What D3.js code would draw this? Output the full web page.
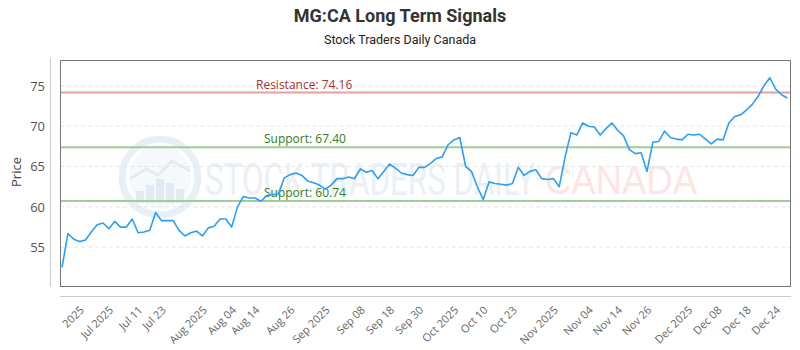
<!DOCTYPE html>
<html>
<head>
<meta charset="utf-8">
<script src="https://cdn.jsdelivr.net/npm/d3@7"></script>
<style>
  html, body { margin: 0; padding: 0; background: #fff; }
  svg { display: block; }
</style>
</head>
<body>
<div id="chart"></div>
<script>
// Closing prices, one per session
const prices = [
  52.5, 56.7, 56.0, 55.7, 55.9, 56.9, 57.8, 58.0, 57.3, 58.2,
  57.5, 57.5, 58.5, 56.8, 56.9, 57.1, 59.3, 58.3, 58.3, 58.3,
  57.1, 56.4, 56.8, 57.0, 56.4, 57.4, 57.6, 58.5, 58.5, 57.5,
  60.0, 61.3, 61.1, 61.1, 60.7, 61.4, 61.5, 61.6, 63.6, 64.0,
  64.2, 63.9, 63.2, 63.0, 62.7, 62.2, 62.7, 63.5, 63.5, 63.7,
  63.5, 64.7, 64.3, 64.5, 63.5, 64.4, 65.3, 64.8, 64.2, 64.0,
  63.9, 64.9, 64.9, 65.4, 66.0, 66.2, 67.7, 68.3, 68.6, 65.0,
  64.4, 62.5, 60.9, 63.1, 62.9, 62.8, 62.7, 62.9, 64.9, 63.9,
  64.4, 64.6, 63.5, 63.4, 63.5, 62.5, 66.2, 69.2, 68.9, 70.4,
  70.0, 69.9, 68.9, 69.7, 70.4, 69.5, 68.8, 67.1, 66.6, 66.7,
  64.4, 68.0, 68.1, 69.4, 68.6, 68.4, 68.3, 69.0, 68.9, 69.0,
  68.4, 67.8, 68.4, 68.3, 70.4, 71.2, 71.4, 72.0, 72.7, 73.7,
  75.0, 76.0, 74.6, 73.9, 73.5
];

// Labelled sessions on the date axis
const tickLabels = [
  "2025", "Jul 2025", "Jul 11", "Jul 23", "Aug 2025", "Aug 04", "Aug 14", "Aug 26",
  "Sep 2025", "Sep 08", "Sep 18", "Sep 30", "Oct 2025", "Oct 10", "Oct 23",
  "Nov 2025", "Nov 04", "Nov 14", "Nov 26", "Dec 2025", "Dec 08", "Dec 18", "Dec 24"
];
const tickAt = [
  3, 8, 13, 17, 24, 29, 33, 39, 45, 51, 56, 61, 67, 72, 77, 84, 90, 95, 100, 107, 112, 117, 122
];

const yTicks = [55, 60, 65, 70, 75];

// Signal levels
const levelNames = ["Resistance", "Support", "Support"];
const levelValues = [74.16, 67.40, 60.74];

const W = 800, H = 350;
const plot = { left: 60, right: 790, top: 60, bottom: 286 };

const svg = d3.select("#chart").append("svg")
  .attr("width", W).attr("height", H);

const x = d3.scaleLinear()
  .domain([-0.35, prices.length - 1 + 0.45])
  .range([plot.left, plot.right]);

const y = d3.scaleLinear()
  .domain([50.2, 78.2])
  .range([plot.bottom, plot.top]);

const baseFont = "'Open Sans', 'DejaVu Sans', sans-serif";
const titleFont = "'Liberation Sans Narrow', 'Roboto', sans-serif";

// Title
svg.append("text")
  .attr("x", W / 2).attr("y", 22)
  .attr("text-anchor", "middle")
  .style("font-family", titleFont)
  .style("font-weight", "bold")
  .style("font-size", "18px")
  .style("fill", "#333")
  .text("MG:CA Long Term Signals");

svg.append("text")
  .attr("x", W / 2).attr("y", 44)
  .attr("text-anchor", "middle")
  .style("font-family", titleFont)
  .style("font-size", "12.5px")
  .style("fill", "#222")
  .text("Stock Traders Daily Canada");

// Watermark
const wm = svg.append("g");
const cx = 160, cy = 177;
wm.append("circle").attr("cx", cx).attr("cy", cy).attr("r", 38)
  .attr("fill", "none").attr("stroke", "#e8f0f7").attr("stroke-width", 7);
wm.append("circle").attr("cx", cx).attr("cy", cy).attr("r", 31)
  .attr("fill", "#f5f9fc");
[[-20, 12], [-10, 18], [0, 24], [10, 20], [20, 14]].forEach(([dx, h]) => {
  wm.append("rect")
    .attr("x", cx + dx - 4).attr("y", cy + 26 - h)
    .attr("width", 8).attr("height", h)
    .attr("fill", "#e2ebf3");
});
wm.append("polyline")
  .attr("points", [[cx - 30, cy + 2], [cx - 14, cy - 8], [cx - 2, cy - 2], [cx + 12, cy - 16], [cx + 30, cy - 6]]
    .map(p => p.join(",")).join(" "))
  .attr("fill", "none").attr("stroke", "#e2ebf3").attr("stroke-width", 3);
wm.append("text")
  .attr("x", 205).attr("y", 195)
  .attr("textLength", 330).attr("lengthAdjust", "spacingAndGlyphs")
  .style("font-family", titleFont)
  .style("font-size", "44px")
  .style("fill", "#e9f0f6")
  .text("STOCK TRADERS DAILY");
wm.append("text")
  .attr("x", 545).attr("y", 194)
  .attr("textLength", 152).attr("lengthAdjust", "spacingAndGlyphs")
  .style("font-family", "'Liberation Sans', sans-serif")
  .style("font-size", "40px")
  .style("fill", "#fde5e5")
  .text("CANADA");

// Horizontal grid
svg.append("g")
  .selectAll("line")
  .data(yTicks)
  .join("line")
  .attr("x1", plot.left).attr("x2", plot.right)
  .attr("y1", d => y(d)).attr("y2", d => y(d))
  .attr("stroke", "#e6e6e6")
  .attr("stroke-dasharray", "4,3")
  .attr("stroke-width", 1);

// Plot frame
svg.append("rect")
  .attr("x", plot.left + 0.5).attr("y", plot.top + 0.5)
  .attr("width", plot.right - plot.left).attr("height", plot.bottom - plot.top)
  .attr("fill", "none").attr("stroke", "#777").attr("stroke-width", 1);

// Outer axis rules
svg.append("line")
  .attr("x1", 50.5).attr("x2", 50.5).attr("y1", plot.top - 2).attr("y2", plot.bottom + 1)
  .attr("stroke", "#ccc");
svg.append("line")
  .attr("x1", plot.left).attr("x2", plot.right + 1).attr("y1", 296.5).attr("y2", 296.5)
  .attr("stroke", "#ccc");

// Y axis labels
const yAxis = d3.axisLeft(y).tickValues(yTicks).tickSize(0).tickPadding(0);
const gy = svg.append("g").attr("transform", "translate(45,0)").call(yAxis);
gy.select(".domain").remove();
gy.selectAll("text")
  .style("font-family", baseFont)
  .style("font-size", "13px")
  .style("fill", "#555");

svg.append("text")
  .attr("transform", "translate(21,172) rotate(-90)")
  .attr("text-anchor", "middle")
  .style("font-family", baseFont)
  .style("font-size", "13px")
  .style("fill", "#444")
  .text("Price");

// X axis labels
const xAxis = d3.axisBottom(x)
  .tickValues(tickAt)
  .tickFormat((d, i) => tickLabels[i])
  .tickSize(0).tickPadding(0);
const gx = svg.append("g").attr("transform", "translate(0,306)").call(xAxis);
gx.select(".domain").remove();
gx.selectAll("text")
  .attr("text-anchor", "end")
  .attr("dy", "0.35em")
  .attr("transform", "translate(2,2) rotate(-45)")
  .style("font-family", baseFont)
  .style("font-size", "11px")
  .style("fill", "#666");

// Signal lines
const levelColors = ["#e9a0a0", "#9ccf95", "#9ccf95"];
const labelColors = ["#a8322f", "#2f7d2a", "#2f7d2a"];
const labelX = [256, 264, 264];
svg.append("g")
  .selectAll("line")
  .data(levelValues)
  .join("line")
  .attr("x1", plot.left + 1).attr("x2", plot.right)
  .attr("y1", d => y(d)).attr("y2", d => y(d))
  .attr("stroke", (d, i) => levelColors[i])
  .attr("stroke-width", 2);

svg.append("g")
  .selectAll("text")
  .data(levelValues)
  .join("text")
  .attr("x", (d, i) => labelX[i])
  .attr("y", d => y(d) - 4)
  .style("font-family", baseFont)
  .style("font-size", "12px")
  .style("fill", (d, i) => labelColors[i])
  .text((d, i) => `${levelNames[i]}: ${d.toFixed(2)}`);

// Price line
const line = d3.line()
  .x((d, i) => x(i))
  .y(d => y(d));
svg.append("path")
  .datum(prices)
  .attr("d", line)
  .attr("fill", "none")
  .attr("stroke", "#2a9ff5")
  .attr("stroke-width", 1.6)
  .attr("stroke-linejoin", "round");
</script>
</body>
</html>
